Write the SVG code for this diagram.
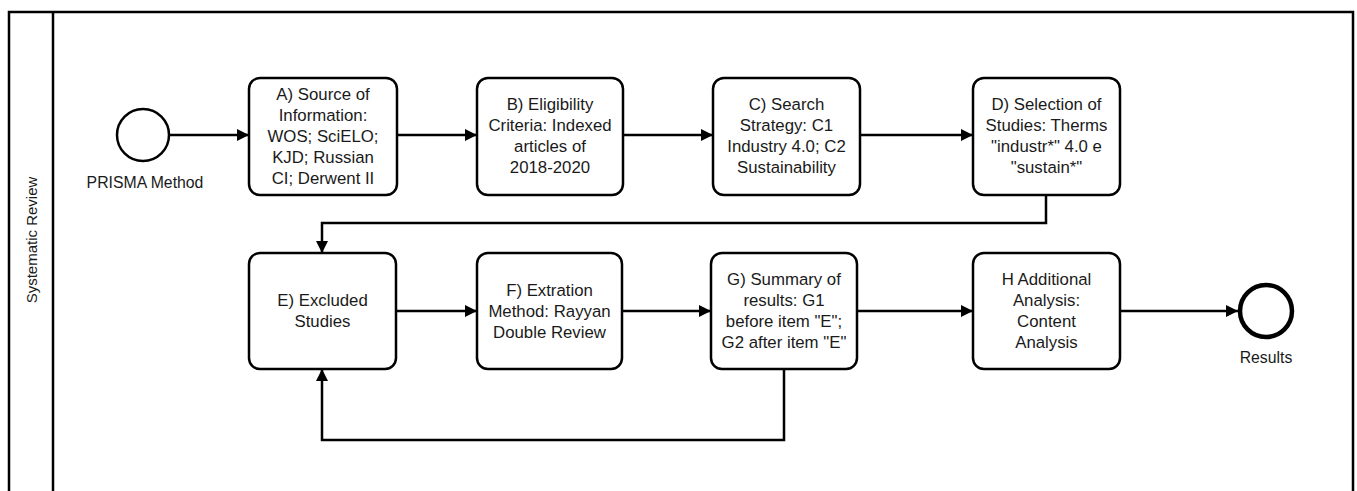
<svg xmlns="http://www.w3.org/2000/svg" width="1357" height="491" viewBox="0 0 1357 491">
<style>
.box{fill:#fff;stroke:#000;stroke-width:2.5}
.t{font-family:"Liberation Sans",Arial,sans-serif;font-size:16.8px;fill:#1a1a1a;text-anchor:middle}
.lbl{font-family:"Liberation Sans",Arial,sans-serif;fill:#1a1a1a;text-anchor:middle}
.edge{fill:none;stroke:#000;stroke-width:2.5}
</style>
<defs>
<marker id="arr" viewBox="0 0 12 12" refX="12" refY="6" markerWidth="12" markerHeight="12" markerUnits="userSpaceOnUse" orient="auto">
<path d="M0,0 L12,6 L0,12 Z" fill="#000"/>
</marker>
</defs>
<rect width="1357" height="491" fill="#fff"/>
<g id="pool">
<path d="M9,495 V12 H1353 V495" fill="none" stroke="#000" stroke-width="2.5"/>
<line x1="53" y1="12" x2="53" y2="495" stroke="#000" stroke-width="2.5"/>
<text class="lbl" font-size="15" transform="translate(37,240) rotate(-90)">Systematic Review</text>
</g>
<g id="connectors">
<path class="edge" d="M169,135 H249" marker-end="url(#arr)"/>
<path class="edge" d="M397,135 H477" marker-end="url(#arr)"/>
<path class="edge" d="M623,135 H713" marker-end="url(#arr)"/>
<path class="edge" d="M860,135 H973" marker-end="url(#arr)"/>
<path class="edge" d="M1046,195 V223 H322 V253" marker-end="url(#arr)"/>
<path class="edge" d="M396,311 H477" marker-end="url(#arr)"/>
<path class="edge" d="M622,311 H711" marker-end="url(#arr)"/>
<path class="edge" d="M857,311 H973" marker-end="url(#arr)"/>
<path class="edge" d="M1120,311 H1238" marker-end="url(#arr)"/>
<path class="edge" d="M784,369 V440 H322 V369" marker-end="url(#arr)"/>
</g>
<g id="start">
<circle cx="143" cy="135" r="26" fill="#fff" stroke="#000" stroke-width="2.5"/>
<text class="lbl" font-size="15.8" x="145" y="187.5">PRISMA Method</text>
</g>
<g id="nodeA">
<rect class="box" x="249" y="78" width="148" height="117" rx="11"/>
<text class="t"><tspan x="323" y="100">A) Source of</tspan><tspan x="323" y="121">Information:</tspan><tspan x="323" y="142">WOS; SciELO;</tspan><tspan x="323" y="163">KJD; Russian</tspan><tspan x="323" y="184">CI; Derwent II</tspan></text>
</g>
<g id="nodeB">
<rect class="box" x="477" y="78" width="146" height="117" rx="11"/>
<text class="t"><tspan x="550" y="110">B) Eligibility</tspan><tspan x="550" y="131">Criteria: Indexed</tspan><tspan x="550" y="152">articles of</tspan><tspan x="550" y="173">2018-2020</tspan></text>
</g>
<g id="nodeC">
<rect class="box" x="713" y="78" width="147" height="117" rx="11"/>
<text class="t"><tspan x="786.5" y="110">C) Search</tspan><tspan x="786.5" y="131">Strategy: C1</tspan><tspan x="786.5" y="152">Industry 4.0; C2</tspan><tspan x="786.5" y="173">Sustainability</tspan></text>
</g>
<g id="nodeD">
<rect class="box" x="973" y="78" width="147" height="117" rx="11"/>
<text class="t"><tspan x="1046.5" y="110">D) Selection of</tspan><tspan x="1046.5" y="131">Studies: Therms</tspan><tspan x="1046.5" y="152">"industr*" 4.0 e</tspan><tspan x="1046.5" y="173">"sustain*"</tspan></text>
</g>
<g id="nodeE">
<rect class="box" x="249" y="253" width="147" height="116" rx="11"/>
<text class="t"><tspan x="322.5" y="306">E) Excluded</tspan><tspan x="322.5" y="327">Studies</tspan></text>
</g>
<g id="nodeF">
<rect class="box" x="477" y="253" width="145" height="116" rx="11"/>
<text class="t"><tspan x="549.5" y="295.5">F) Extration</tspan><tspan x="549.5" y="316.5">Method: Rayyan</tspan><tspan x="549.5" y="337.5">Double Review</tspan></text>
</g>
<g id="nodeG">
<rect class="box" x="711" y="253" width="146" height="116" rx="11"/>
<text class="t"><tspan x="784" y="285">G) Summary of</tspan><tspan x="784" y="306">results: G1</tspan><tspan x="784" y="327">before item "E";</tspan><tspan x="784" y="348">G2 after item "E"</tspan></text>
</g>
<g id="nodeH">
<rect class="box" x="973" y="253" width="147" height="116" rx="11"/>
<text class="t"><tspan x="1046.5" y="285">H Additional</tspan><tspan x="1046.5" y="306">Analysis:</tspan><tspan x="1046.5" y="327">Content</tspan><tspan x="1046.5" y="348">Analysis</tspan></text>
</g>
<g id="end">
<circle cx="1266" cy="311" r="26" fill="#fff" stroke="#000" stroke-width="4.5"/>
<text class="lbl" font-size="15.8" x="1266" y="363">Results</text>
</g>
</svg>
